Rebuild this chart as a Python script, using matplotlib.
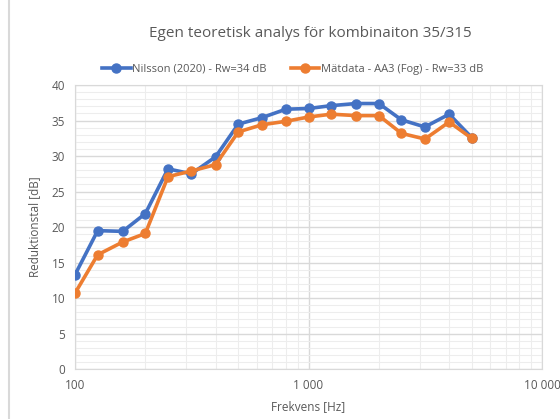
import matplotlib.pyplot as plt
from matplotlib.ticker import FixedLocator, FuncFormatter, MultipleLocator
from matplotlib.lines import Line2D

plt.rcParams['font.family'] = ['Open Sans', 'DejaVu Sans']

freq = [100, 125, 160, 200, 250, 315, 400, 500, 630, 800,
        1000, 1250, 1600, 2000, 2500, 3150, 4000, 5000]
nilsson = [13.3, 19.5, 19.4, 21.9, 28.2, 27.5, 29.9, 34.5, 35.4, 36.6,
           36.7, 37.1, 37.4, 37.4, 35.1, 34.1, 35.9, 32.6]
matdata = [10.7, 16.1, 17.9, 19.1, 27.1, 27.9, 28.8, 33.4, 34.4, 34.9,
           35.5, 35.9, 35.7, 35.7, 33.2, 32.4, 34.8, 32.5]
labels = ['Nilsson (2020) - Rw=34 dB', 'Mätdata - AA3 (Fog) - Rw=33 dB']

fig = plt.figure(figsize=(5.6, 4.19), dpi=100)
ax = fig.add_axes([0.134, 0.119, 0.834, 0.678])

ax.plot(freq, nilsson, color='#4472C4', lw=2.6, marker='o', ms=6.5, label=labels[0], zorder=3)
ax.plot(freq, matdata, color='#ED7D31', lw=2.6, marker='o', ms=6.5, label=labels[1], zorder=3)

ax.set_xscale('log')
ax.set_xlim(100, 10000)
ax.set_ylim(0, 40)
ax.yaxis.set_major_locator(MultipleLocator(5))
ax.yaxis.set_minor_locator(MultipleLocator(1))
ax.xaxis.set_major_locator(FixedLocator([100, 1000, 10000]))
ax.xaxis.set_minor_locator(FixedLocator([200, 300, 400, 500, 600, 700, 800, 900,
                                         2000, 3000, 4000, 5000, 6000, 7000, 8000, 9000]))
ax.xaxis.set_major_formatter(FuncFormatter(lambda v, p: f'{int(v):,}'.replace(',', ' ')))
ax.xaxis.set_minor_formatter(FuncFormatter(lambda v, p: ''))

ax.grid(which='major', color='#D9D9D9', lw=1.0)
ax.grid(which='minor', color='#EDEDED', lw=0.8)
ax.set_axisbelow(True)
for s in ax.spines.values():
    s.set_color('#D9D9D9')
ax.tick_params(which='both', length=0, labelsize=8.5, colors='#595959', pad=7)

ax.set_xlabel('Frekvens [Hz]', fontsize=8.5, color='#595959', labelpad=6)
ax.set_ylabel('Reduktionstal [dB]', fontsize=8.5, color='#595959', labelpad=8)

fig.text(0.555, 0.921, 'Egen teoretisk analys för kombinaiton 35/315', ha='center', va='center',
         fontsize=11, color='#595959')
fig.legend(loc='center', bbox_to_anchor=(0.522, 0.835), ncol=2, frameon=False,
           fontsize=8, labelcolor='#595959', handlelength=2.6, columnspacing=2.2, handletextpad=0.1)

fig.add_artist(Line2D([0.016, 0.016], [0, 1], transform=fig.transFigure, color='#D9D9D9', lw=1.5))

fig.savefig('out.png', dpi=100)
